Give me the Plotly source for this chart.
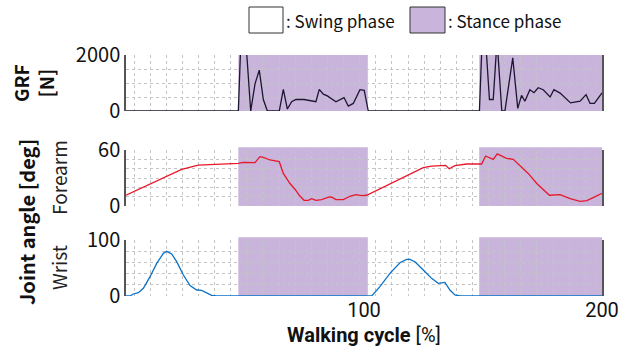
import plotly.graph_objects as go
from plotly.subplots import make_subplots

# ---------------- data ----------------
grf_x = [0, 47.2, 48.4, 50.6, 52.4, 54.2, 56.0, 57.7, 59.4, 64.4, 66.1, 67.8, 69.6, 71.4, 74.8,
         79.8, 81.2, 82.9, 84.6, 88.2, 91.6, 93.4, 95.5, 98.3, 100.1, 101.8,
         148.5, 149.6, 151.3, 152.7, 154.3, 155.9, 157.9, 159.2, 162.5, 164.6, 166.2, 167.6,
         169.7, 171.4, 173.2, 175.3, 178.2, 179.8, 182.4, 184.5, 186.8, 190.8, 193.3, 195.0,
         196.8, 200]
grf_y = [0, 0, 2800, 2200, 0, 970, 1460, 410, 0, 0, 770, 70, 330, 410, 410,
         330, 770, 600, 540, 330, 480, 175, 270, 760, 740, 0,
         0, 2444, 2265, 410, 410, 2530, 0, 0, 1900, 95, 560, 350,
         760, 655, 830, 760, 500, 760, 640, 480, 290, 350, 585, 270,
         270, 650]

forearm_x = [0, 23.4, 30.4, 36.7, 43.7, 47.2, 49.3, 54.2, 56.3, 57.7, 60.5, 64.4, 66.1, 68.9,
             71.0, 72.8, 74.8, 76.6, 78.0, 79.8, 82.2, 85.4, 86.5, 88.2, 91.3, 94.1, 96.6,
             99.0, 101.1, 124.9, 128.4, 133.3, 134.3, 135.8, 138.2, 143.1, 149.4, 151.1,
             152.7, 154.3, 156.0, 158.5, 159.9, 162.7, 165.5, 169.0, 172.6, 174.7, 177.9,
             182.4, 186.6, 190.8, 193.6, 196.3, 200]
forearm_y = [11.5, 39.2, 43.9, 44.6, 45.7, 45.7, 46.8, 46.4, 52.9, 52.2, 49.3, 47.5, 34.9, 24.1,
             18.0, 11.5, 6.1, 6.1, 7.9, 6.1, 6.8, 9.7, 9.4, 6.8, 6.8, 10.4, 12.2,
             11.2, 11.5, 41.0, 42.8, 43.2, 43.5, 39.9, 43.2, 45.0, 45.0, 53.6,
             52.2, 50.0, 55.8, 52.9, 51.1, 50.0, 42.8, 34.9, 24.1, 18.7, 11.5,
             12.2, 7.9, 5.0, 5.8, 9.0, 13.5]

wrist_x = [0, 1.7, 3.1, 5.2, 7.3, 10.1, 12.9, 15.7, 17.1, 19.2, 21.3, 24.1, 26.9, 29.7, 31.8,
           33.9, 36.0, 38.1, 103.2, 106.7, 110.9, 115.1, 117.9, 119.3, 121.4, 124.9, 128.4,
           131.2, 133.3, 134.0, 136.1, 138.2, 140.3, 200]
wrist_y = [0, 0, 3.6, 6, 13.7, 34.5, 58.3, 76.2, 79.8, 75, 61.3, 37.5, 18.5, 10.7, 10.1,
           6, 1.2, 0, 0, 16.7, 40.5, 59.5, 65.5, 65.5, 61.3, 46.4, 31.5,
           22.6, 23.8, 24.4, 10.7, 1.8, 0, 0]

stance_start = [47.2, 148.4]
stance_end = [101.6, 200]

x_ticks = [100, 200]
grf_ticks = [0, 2000]
forearm_ticks = [0, 60]
wrist_ticks = [0, 100]

# ---------------- style ----------------
FONT = "Noto Sans CJK JP"
XFONT = "Roboto"
SHADE = "#c9b4db"
AXC = "#555555"
GRIDC = "#c4c4c4"
W, H = 632, 349

def py(px):
    return 1 - px / H

def px_x(px):
    return px / W

fig = make_subplots(rows=3, cols=1, shared_xaxes=False)

fig.add_trace(go.Scatter(x=grf_x, y=grf_y, mode="lines",
                         line=dict(color="#1c1630", width=1.3)), row=1, col=1)
fig.add_trace(go.Scatter(x=forearm_x, y=forearm_y, mode="lines",
                         line=dict(color="#e8182c", width=1.3)), row=2, col=1)
fig.add_trace(go.Scatter(x=wrist_x, y=wrist_y, mode="lines",
                         line=dict(color="#0a72c8", width=1.3)), row=3, col=1)

xdom = [px_x(126), px_x(602)]
ydoms = [[py(111), py(55)], [py(206), py(150)], [py(296), py(240)]]
yranges = [[0, 2000], [0, 60], [0, 100]]
ydt = [500, 10, 20]
yticks = [grf_ticks, forearm_ticks, wrist_ticks]

for i in range(3):
    n = "" if i == 0 else str(i + 1)
    fig.layout["xaxis" + n].update(
        domain=xdom, range=[0, 200], showline=False, zeroline=False, automargin=False,
        tickmode="array", tickvals=x_ticks, ticks="", showgrid=False,
        showticklabels=(i == 2),
        tickfont=dict(family=XFONT, size=20, color="#111"),
        minor=dict(tickmode="linear", tick0=3.4, dtick=6.77, showgrid=True,
                   gridcolor=GRIDC, griddash="dot", gridwidth=1, ticks=""),
    )
    fig.layout["yaxis" + n].update(
        domain=ydoms[i], range=yranges[i], zeroline=False, automargin=False,
        tickmode="array", tickvals=yticks[i], ticks="inside", ticklen=5,
        tickcolor=AXC, tickwidth=1.5, showline=True, linecolor=AXC, linewidth=1.5,
        mirror="ticks", showgrid=False,
        tickfont=dict(family=FONT, size=20, color="#111"),
        minor=dict(tickmode="linear", tick0=0, dtick=ydt[i], showgrid=True,
                   gridcolor=GRIDC, griddash="dot", gridwidth=1, ticks=""),
    )

tops = [1.0, 1.05, 1.05]
for i in range(3):
    n = "" if i == 0 else str(i + 1)
    for s, e in zip(stance_start, stance_end):
        fig.add_shape(type="rect", xref="x" + n, yref="y" + n + " domain",
                      x0=s, x1=e, y0=0, y1=tops[i], fillcolor=SHADE,
                      line=dict(width=0), layer="below")

# legend (drawn manually)
fig.add_shape(type="rect", xref="paper", yref="paper",
              x0=px_x(249), x1=px_x(283), y0=py(33), y1=py(7),
              fillcolor="white", line=dict(color="#333", width=1))
fig.add_shape(type="rect", xref="paper", yref="paper",
              x0=px_x(410), x1=px_x(445), y0=py(33), y1=py(7),
              fillcolor=SHADE, line=dict(color="#333", width=1))
fig.add_annotation(xref="paper", yref="paper", x=px_x(284), y=py(20), text=": Swing phase",
                   showarrow=False, xanchor="left", yanchor="middle",
                   font=dict(family=FONT, size=17, color="#111"))
fig.add_annotation(xref="paper", yref="paper", x=px_x(446), y=py(20), text=": Stance phase",
                   showarrow=False, xanchor="left", yanchor="middle",
                   font=dict(family=FONT, size=17, color="#111"))

# x title
fig.add_annotation(xref="paper", yref="paper", x=px_x(364), y=0,
                   text="<b>Walking cycle</b> [%]", showarrow=False,
                   xanchor="center", yanchor="bottom",
                   font=dict(family=XFONT, size=20, color="#111"))

# y titles
fig.add_annotation(xref="paper", yref="paper", x=px_x(33), y=py(83),
                   text="<b>GRF</b><br><b>[N]</b>", textangle=-90, showarrow=False,
                   xanchor="center", yanchor="middle",
                   font=dict(family=FONT, size=19, color="#111"))
fig.add_annotation(xref="paper", yref="paper", x=px_x(27), y=py(222),
                   text="<b>Joint angle [deg]</b>", textangle=-90, showarrow=False,
                   xanchor="center", yanchor="middle",
                   font=dict(family=FONT, size=20, color="#111"))
fig.add_annotation(xref="paper", yref="paper", x=px_x(58), y=py(178),
                   text="Forearm", textangle=-90, showarrow=False,
                   xanchor="center", yanchor="middle",
                   font=dict(family=FONT, size=19, color="#222"))
fig.add_annotation(xref="paper", yref="paper", x=px_x(58), y=py(268),
                   text="Wrist", textangle=-90, showarrow=False,
                   xanchor="center", yanchor="middle",
                   font=dict(family=FONT, size=19, color="#222"))

fig.update_layout(width=W, height=H, margin=dict(l=0, r=0, t=0, b=0, autoexpand=False),
                  paper_bgcolor="white", plot_bgcolor="white", showlegend=False)

fig.write_html("out.html", config={"displayModeBar": False},
               post_script="document.body.style.margin='0px';document.body.style.overflow='hidden';")
